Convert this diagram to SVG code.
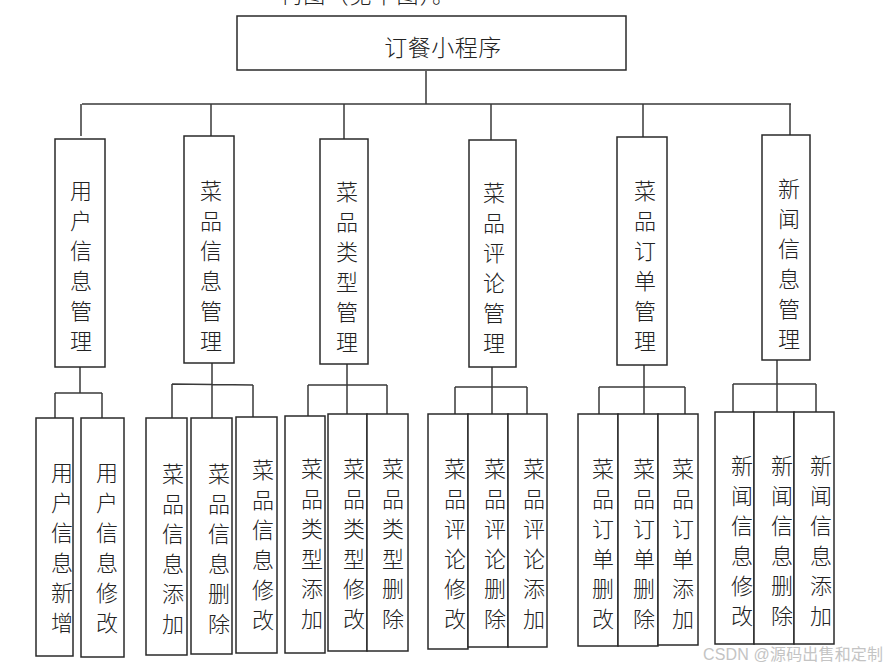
<svg xmlns="http://www.w3.org/2000/svg" width="887" height="670" viewBox="0 0 887 670">
<style>
.box{fill:#fff;stroke:#2a2a2a;stroke-width:1.5}
.ln{fill:none;stroke:#3a3a3a;stroke-width:1.5}
.t{font-family:"Noto Sans CJK SC","Noto Sans CJK JP",sans-serif;font-size:22px;fill:#222;text-anchor:middle;font-weight:300}
.wm{font-family:"Liberation Sans","Noto Sans CJK SC",sans-serif;font-size:16px;fill:#c4c4c4}
</style>
<rect width="887" height="670" fill="#fff"/>
<text class="t" x="280" y="3" textLength="174" lengthAdjust="spacing" style="text-anchor:start">构图（见下图）。</text>

<g id="connectors">
<path class="ln" d="M426 71V104M82 104H791M81 104V136M211 104V136M344 104V139M491 104V140M643 104V137M790 104V135"/>
<path class="ln" d="M80 367V393M55 393H102M55 393V418M102 393V418"/>
<path class="ln" d="M212 363V418M172 384L253 385M172 384V418M253 385V417"/>
<path class="ln" d="M347 364V414M308 385H387M308 385V416M387 385V414"/>
<path class="ln" d="M492 367V414M455 387H527M455 387V414M527 387V414"/>
<path class="ln" d="M644 365V414M599 387H685M599 387V414M685 387V414"/>
<path class="ln" d="M777 360V412M733 384H816M733 384V412M816 384V412"/>
</g>

<g id="root">
<rect class="box" x="237" y="16" width="389" height="54"/>
<text class="t" x="443" y="56" style="font-size:23px;letter-spacing:0.5px">订餐小程序</text>
</g>

<g id="m1"><rect class="box" x="55" y="139" width="50" height="228"/>
<text class="t"><tspan x="81" y="199">用</tspan><tspan x="81" dy="30">户</tspan><tspan x="81" dy="30">信</tspan><tspan x="81" dy="30">息</tspan><tspan x="81" dy="30">管</tspan><tspan x="81" dy="30">理</tspan></text></g>
<g id="m2"><rect class="box" x="184" y="136" width="50" height="227"/>
<text class="t"><tspan x="211" y="199">菜</tspan><tspan x="211" dy="30">品</tspan><tspan x="211" dy="30">信</tspan><tspan x="211" dy="30">息</tspan><tspan x="211" dy="30">管</tspan><tspan x="211" dy="30">理</tspan></text></g>
<g id="m3"><rect class="box" x="320" y="139" width="48" height="225"/>
<text class="t"><tspan x="347" y="200">菜</tspan><tspan x="347" dy="30">品</tspan><tspan x="347" dy="30">类</tspan><tspan x="347" dy="30">型</tspan><tspan x="347" dy="30">管</tspan><tspan x="347" dy="30">理</tspan></text></g>
<g id="m4"><rect class="box" x="469" y="140" width="47" height="227"/>
<text class="t"><tspan x="494" y="201">菜</tspan><tspan x="494" dy="30">品</tspan><tspan x="494" dy="30">评</tspan><tspan x="494" dy="30">论</tspan><tspan x="494" dy="30">管</tspan><tspan x="494" dy="30">理</tspan></text></g>
<g id="m5"><rect class="box" x="617" y="137" width="50" height="228"/>
<text class="t"><tspan x="645" y="199">菜</tspan><tspan x="645" dy="30">品</tspan><tspan x="645" dy="30">订</tspan><tspan x="645" dy="30">单</tspan><tspan x="645" dy="30">管</tspan><tspan x="645" dy="30">理</tspan></text></g>
<g id="m6"><rect class="box" x="762" y="135" width="48" height="225"/>
<text class="t"><tspan x="789" y="197">新</tspan><tspan x="789" dy="30">闻</tspan><tspan x="789" dy="30">信</tspan><tspan x="789" dy="30">息</tspan><tspan x="789" dy="30">管</tspan><tspan x="789" dy="30">理</tspan></text></g>

<g id="s1a"><rect class="box" x="36" y="418" width="37" height="238"/>
<text class="t"><tspan x="62" y="481">用</tspan><tspan x="62" dy="30">户</tspan><tspan x="62" dy="30">信</tspan><tspan x="62" dy="30">息</tspan><tspan x="62" dy="30">新</tspan><tspan x="62" dy="30">增</tspan></text></g>
<g id="s1b"><rect class="box" x="81" y="418" width="43" height="239"/>
<text class="t"><tspan x="107" y="481">用</tspan><tspan x="107" dy="30">户</tspan><tspan x="107" dy="30">信</tspan><tspan x="107" dy="30">息</tspan><tspan x="107" dy="30">修</tspan><tspan x="107" dy="30">改</tspan></text></g>

<g id="s2a"><rect class="box" x="146" y="418" width="41" height="237"/>
<text class="t"><tspan x="173" y="482">菜</tspan><tspan x="173" dy="30">品</tspan><tspan x="173" dy="30">信</tspan><tspan x="173" dy="30">息</tspan><tspan x="173" dy="30">添</tspan><tspan x="173" dy="30">加</tspan></text></g>
<g id="s2b"><rect class="box" x="191" y="418" width="41" height="236"/>
<text class="t"><tspan x="219" y="482">菜</tspan><tspan x="219" dy="30">品</tspan><tspan x="219" dy="30">信</tspan><tspan x="219" dy="30">息</tspan><tspan x="219" dy="30">删</tspan><tspan x="219" dy="30">除</tspan></text></g>
<g id="s2c"><rect class="box" x="236" y="417" width="41" height="236"/>
<text class="t"><tspan x="263" y="478">菜</tspan><tspan x="263" dy="30">品</tspan><tspan x="263" dy="30">信</tspan><tspan x="263" dy="30">息</tspan><tspan x="263" dy="30">修</tspan><tspan x="263" dy="30">改</tspan></text></g>

<g id="s3a"><rect class="box" x="285" y="416" width="40" height="237"/>
<text class="t"><tspan x="312" y="477">菜</tspan><tspan x="312" dy="30">品</tspan><tspan x="312" dy="30">类</tspan><tspan x="312" dy="30">型</tspan><tspan x="312" dy="30">添</tspan><tspan x="312" dy="30">加</tspan></text></g>
<g id="s3b"><rect class="box" x="328" y="414" width="39" height="237"/>
<text class="t"><tspan x="354" y="477">菜</tspan><tspan x="354" dy="30">品</tspan><tspan x="354" dy="30">类</tspan><tspan x="354" dy="30">型</tspan><tspan x="354" dy="30">修</tspan><tspan x="354" dy="30">改</tspan></text></g>
<g id="s3c"><rect class="box" x="367" y="414" width="41" height="237"/>
<text class="t"><tspan x="393" y="477">菜</tspan><tspan x="393" dy="30">品</tspan><tspan x="393" dy="30">类</tspan><tspan x="393" dy="30">型</tspan><tspan x="393" dy="30">删</tspan><tspan x="393" dy="30">除</tspan></text></g>

<g id="s4a"><rect class="box" x="428" y="414" width="40" height="235"/>
<text class="t"><tspan x="455" y="477">菜</tspan><tspan x="455" dy="30">品</tspan><tspan x="455" dy="30">评</tspan><tspan x="455" dy="30">论</tspan><tspan x="455" dy="30">修</tspan><tspan x="455" dy="30">改</tspan></text></g>
<g id="s4b"><rect class="box" x="468" y="414" width="40" height="233"/>
<text class="t"><tspan x="495" y="477">菜</tspan><tspan x="495" dy="30">品</tspan><tspan x="495" dy="30">评</tspan><tspan x="495" dy="30">论</tspan><tspan x="495" dy="30">删</tspan><tspan x="495" dy="30">除</tspan></text></g>
<g id="s4c"><rect class="box" x="508" y="414" width="39" height="233"/>
<text class="t"><tspan x="534" y="477">菜</tspan><tspan x="534" dy="30">品</tspan><tspan x="534" dy="30">评</tspan><tspan x="534" dy="30">论</tspan><tspan x="534" dy="30">添</tspan><tspan x="534" dy="30">加</tspan></text></g>

<g id="s5a"><rect class="box" x="578" y="414" width="40" height="232"/>
<text class="t"><tspan x="603" y="477">菜</tspan><tspan x="603" dy="30">品</tspan><tspan x="603" dy="30">订</tspan><tspan x="603" dy="30">单</tspan><tspan x="603" dy="30">删</tspan><tspan x="603" dy="30">改</tspan></text></g>
<g id="s5b"><rect class="box" x="618" y="414" width="40" height="232"/>
<text class="t"><tspan x="644" y="477">菜</tspan><tspan x="644" dy="30">品</tspan><tspan x="644" dy="30">订</tspan><tspan x="644" dy="30">单</tspan><tspan x="644" dy="30">删</tspan><tspan x="644" dy="30">除</tspan></text></g>
<g id="s5c"><rect class="box" x="658" y="414" width="40" height="231"/>
<text class="t"><tspan x="683" y="477">菜</tspan><tspan x="683" dy="30">品</tspan><tspan x="683" dy="30">订</tspan><tspan x="683" dy="30">单</tspan><tspan x="683" dy="30">添</tspan><tspan x="683" dy="30">加</tspan></text></g>

<g id="s6a"><rect class="box" x="715" y="412" width="39" height="232"/>
<text class="t"><tspan x="742" y="474">新</tspan><tspan x="742" dy="30">闻</tspan><tspan x="742" dy="30">信</tspan><tspan x="742" dy="30">息</tspan><tspan x="742" dy="30">修</tspan><tspan x="742" dy="30">改</tspan></text></g>
<g id="s6b"><rect class="box" x="754" y="412" width="40" height="232"/>
<text class="t"><tspan x="782" y="474">新</tspan><tspan x="782" dy="30">闻</tspan><tspan x="782" dy="30">信</tspan><tspan x="782" dy="30">息</tspan><tspan x="782" dy="30">删</tspan><tspan x="782" dy="30">除</tspan></text></g>
<g id="s6c"><rect class="box" x="794" y="412" width="40" height="232"/>
<text class="t"><tspan x="821" y="474">新</tspan><tspan x="821" dy="30">闻</tspan><tspan x="821" dy="30">信</tspan><tspan x="821" dy="30">息</tspan><tspan x="821" dy="30">添</tspan><tspan x="821" dy="30">加</tspan></text></g>

<text class="wm" x="703" y="660" textLength="180">CSDN @源码出售和定制</text>
</svg>
